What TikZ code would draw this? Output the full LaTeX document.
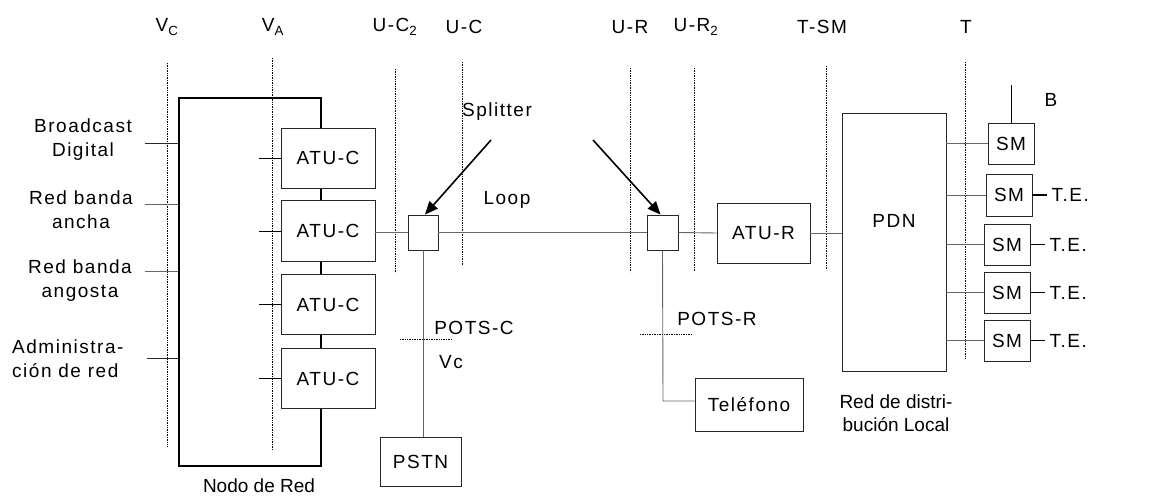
\documentclass[tikz,border=0pt]{standalone}
\usepackage{fontspec}
\setmainfont{Liberation Sans}[LetterSpace=8]
\newfontfamily\plainfont{Liberation Sans}
\usetikzlibrary{arrows.meta}
\begin{document}
\begin{tikzpicture}[x=1pt,y=-1pt,
 every node/.style={font=\fontsize{19}{24}\selectfont},
 box/.style={draw=black!85, line width=0.9pt, fill=white, inner sep=0pt},
 conn/.style={draw=black!60, line width=0.9pt},
 dotl/.style={draw=black, line width=0.6pt, dash pattern=on 0.7pt off 1pt},
 lbl/.style={inner sep=0pt, align=center},
 sarrow/.style={line width=1.6pt, -{Triangle[length=13pt,width=11pt]}}
]
\useasboundingbox (0,0) rectangle (1151,497);

% reference dotted lines
\draw[dotl] (167,63) -- (167,447);
\draw[dotl] (272,58) -- (272,450);
\draw[dotl] (395,69) -- (395,273);
\draw[dotl] (462,62) -- (462,265);
\draw[dotl] (630,68) -- (630,272);
\draw[dotl] (694,68) -- (694,271);
\draw[dotl] (826,66) -- (826,270);
\draw[dotl] (965,62) -- (965,358);
\draw[dotl] (400,339) -- (452,339);
\draw[dotl] (640,334) -- (692,334);

% top labels
\node[lbl] (lvc) at (167,27) {V\textsubscript{C}};
\node[lbl] (lva) at (273,27) {V\textsubscript{A}};
\node[lbl] (luc2) at (395,27) {U-C\textsubscript{2}};
\node[lbl] (luc) at (464,27) {U-C};
\node[lbl] (lur) at (630,27) {U-R};
\node[lbl] (lur2) at (696,27) {U-R\textsubscript{2}};
\node[lbl] (ltsm) at (822,27) {T-SM};
\node[lbl] (lt) at (966,27) {T};

% Nodo de Red
\node[draw=black, line width=1.4pt, minimum width=142pt, minimum height=368pt, inner sep=0pt] (nodo) at (250,282) {};
\node[lbl, font=\plainfont\fontsize{19}{24}\selectfont] (nodolbl) at (259,486) {Nodo de Red};

% ATU-C boxes
\node[box, minimum width=94pt, minimum height=60pt] (atu1) at (328,158) {ATU-C};
\node[box, minimum width=94pt, minimum height=61pt] (atu2) at (328,231) {ATU-C};
\node[box, minimum width=94pt, minimum height=60pt] (atu3) at (328,304.5) {ATU-C};
\node[box, minimum width=94pt, minimum height=60pt] (atu4) at (328,378.5) {ATU-C};
\foreach \n in {1,2,3,4}{
  \coordinate (s\n) at ([xshift=-22pt]atu\n.west);
  \draw[draw=black, line width=0.9pt] (s\n) -- (atu\n.west);
}

% left labels
\node[lbl] (bd) at (83,139.5) {Broadcast\\Digital};
\node[lbl] (rba) at (81,210) {Red banda\\ancha};
\node[lbl] (rbn) at (80,281) {Red banda\\angosta};
\node[lbl, align=left, anchor=west] (adm) at (12,358.5) {Administra-\\ción de red};
\coordinate (c1) at (145,143);
\coordinate (c2) at (145,204);
\coordinate (c3) at (145,271);
\coordinate (c4) at (147,358);
\draw[conn, draw=black!85] (c1) -- (c1 -| nodo.west);
\draw[conn] (c2) -- (c2 -| nodo.west);
\draw[conn] (c3) -- (c3 -| nodo.west);
\draw[conn, draw=black!85] (c4) -- (c4 -| nodo.west);

% splitters
\node[box, minimum width=30pt, minimum height=35pt] (spc) at (423,232.5) {};
\node[box, minimum width=31pt, minimum height=35pt] (spr) at (662.5,232.5) {};
\node[box, minimum width=93pt, minimum height=60pt] (atur) at (763.5,233) {ATU-R};
\node[box, minimum width=104pt, minimum height=258pt] (pdn) at (894,242) {};
\node[lbl] (pdnlbl) at (894,221) {PDN};

\draw[conn] (atu2.east |- spc.west) -- (spc.west);
\draw[conn] (spc.east) -- (spr.west);
\draw[conn] (spr.east) -- (atur.west);
\draw[conn] (atur.east) -- (atur.east -| pdn.west);

\node[lbl] (splbl) at (497,112) {Splitter};
\node[lbl] (loop) at (507,200) {Loop};
\coordinate (a1) at (491,140);
\coordinate (a2) at (593,140);
\draw[sarrow] (a1) -- ([xshift=2pt]spc.north);
\draw[sarrow] (a2) -- ([xshift=-2pt]spr.north);

% POTS-C / PSTN
\node[box, minimum width=81pt, minimum height=49pt] (pstn) at (420.5,461.5) {PSTN};
\draw[conn] (spc.south) -- (spc.south |- pstn.north);
\node[lbl] (potsc) at (474,328) {POTS-C};
\node[lbl] (vc) at (451,362) {Vc};

% POTS-R / Telefono
\node[box, minimum width=108pt, minimum height=53pt] (tel) at (749,404.5) {Teléfono};
\coordinate (tk) at (663,401);
\draw[conn] (spr.south) -- (tk) -- (tk -| tel.west);
\node[lbl] (potsr) at (717,319) {POTS-R};

\node[lbl, font=\plainfont\fontsize{19}{23}\selectfont] (rdl) at (896,413.5) {Red de distri-\\bución Local};

% SM boxes
\node[box, minimum width=46pt, minimum height=41pt] (sm1) at (1011,143.5) {SM};
\node[box, minimum width=46pt, minimum height=42pt] (sm2) at (1009,195) {SM};
\node[box, minimum width=46pt, minimum height=41pt] (sm3) at (1007,244.5) {SM};
\node[box, minimum width=46pt, minimum height=41pt] (sm4) at (1007,292.5) {SM};
\node[box, minimum width=46pt, minimum height=41pt] (sm5) at (1007,340.5) {SM};
\foreach \n in {1,...,5}{
  \draw[conn] (pdn.east |- sm\n.west) -- (sm\n.west);
}
\coordinate (btop) at (1011,85);
\draw[draw=black, line width=0.9pt] (sm1.north) -- (btop);
\node[lbl] (blbl) at (1051,99.5) {B};
\foreach \n in {2,...,5}{
  \coordinate (te\n) at ([xshift=15pt]sm\n.east);
  \draw[draw=black, line width=1.3pt] (sm\n.east) -- (te\n);
  \node[lbl, anchor=west] (tel\n) at ([xshift=4pt]te\n) {T.E.};
}
\end{tikzpicture}
\end{document}
